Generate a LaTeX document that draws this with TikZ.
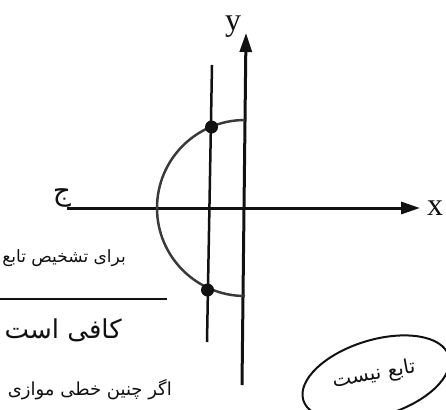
\documentclass[tikz,border=0pt]{standalone}
\usepackage{fontspec}
\setmainfont{Liberation Serif}
\newfontfamily\arabicfont[Script=Arabic]{DejaVu Sans}
\TeXXeTstate=1
\usepackage{xcolor}
\definecolor{ink}{HTML}{111111}
\definecolor{pencil}{HTML}{3A3A3A}
\usetikzlibrary{arrows.meta, positioning, calc}

\begin{document}
\begin{tikzpicture}[
  x=1pt, y=-1pt,
  axis/.style={draw=ink, line width=3pt, -{Triangle[length=19pt, width=12pt]}},
  chord/.style={draw=ink, line width=2.5pt},
  dot/.style={circle, fill=ink, inner sep=0pt, minimum size=13pt},
  note/.style={ink, font=\arabicfont\fontsize{22}{22}\selectfont, inner sep=0pt},
  lbl/.style={ink, font=\fontsize{32}{32}\selectfont, inner sep=0pt}
]
  \useasboundingbox (0,0) rectangle (446,409);

  % axes
  \coordinate (o) at (245,208);
  \coordinate (xl) at (67,208);
  \coordinate (xr) at (420,208);
  \coordinate (yb) at (242,385);
  \coordinate (yt) at (246,33);
  \draw[axis] (xl) -- (xr);
  \draw[axis] (yb) -- (yt);
  \node[lbl] (xlab) at (435,208) {x};
  \node[lbl] (ylab) at (233,27) {y};

  % half circle and the vertical test line
  \coordinate (ta) at (245,120);
  \draw[pencil, line width=2.5pt] (ta) arc[start angle=270, end angle=90, radius=88];
  \coordinate (vt) at (212,65);
  \coordinate (vb) at (207,342);
  \draw[chord] (vt) -- (vb);
  \node[dot] (p1) at (211.5,127) {};
  \node[dot] (p2) at (207.5,290) {};

  % handwritten notes
  \node[note, font=\arabicfont\fontsize{28}{28}\selectfont] (jim) at (62,198) {\beginR ج\endR};
  \node[note, anchor=east, font=\arabicfont\fontsize{17}{17}\selectfont] (n1) at (126,258) {\beginR برای تشخیص تابع\endR};
  \coordinate (ul) at (0,299);
  \coordinate (ur) at (167,299);
  \draw[ink, line width=2pt] (ul) -- (ur);
  \node[note, anchor=east, font=\arabicfont\fontsize{26}{26}\selectfont] (n2) at (122,330) {\beginR کافی است\endR};
  \node[note, anchor=east, font=\arabicfont\fontsize{18}{18}\selectfont] (n3) at (172,390) {\beginR اگر چنین خطی موازی\endR};

  % bubble
  \coordinate (bc) at (376,378);
  \draw[ink, line width=2pt, rotate around={17:(bc)}] (bc) ellipse[x radius=76, y radius=38];
  \node[note, rotate=10, font=\arabicfont\fontsize{20}{20}\selectfont] (n4) at (374,375) {\beginR تابع\,\,نیست\endR};
\end{tikzpicture}
\end{document}
